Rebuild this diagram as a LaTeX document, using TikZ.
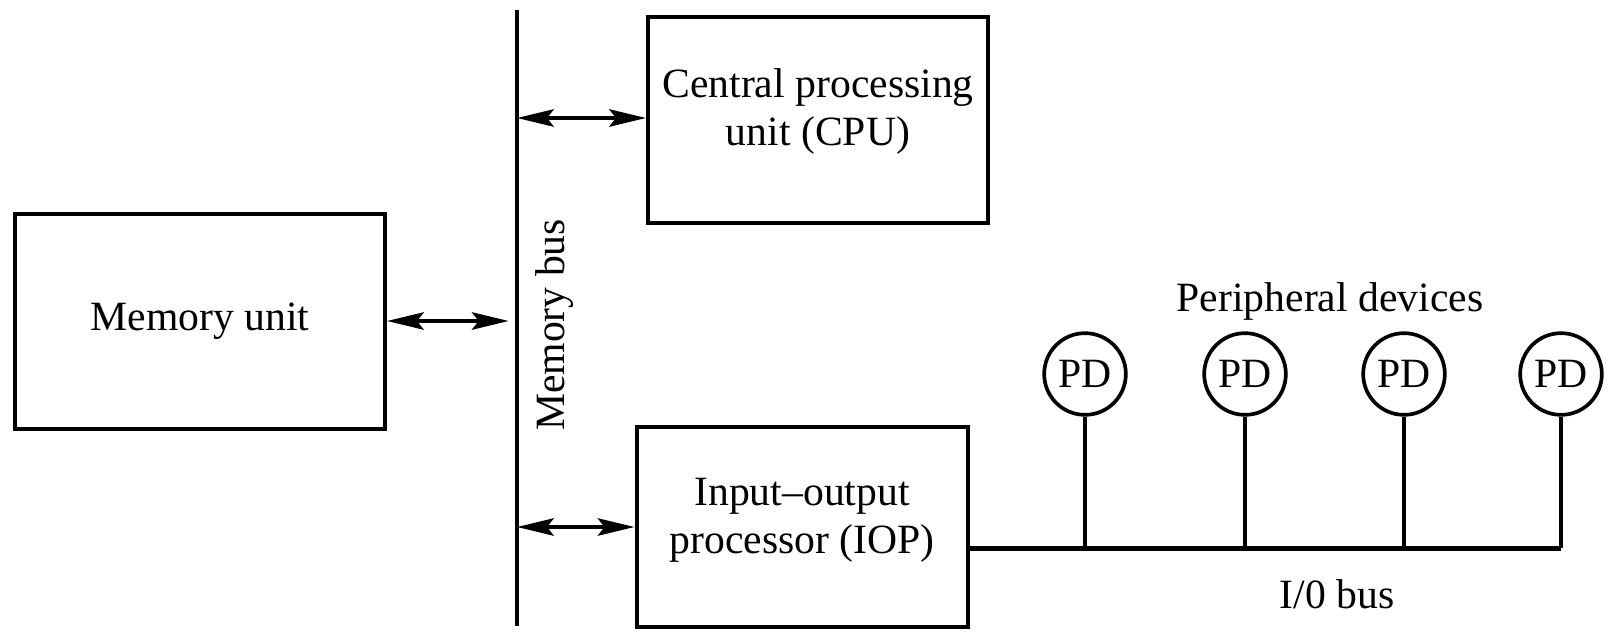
\documentclass[tikz,border=0pt]{standalone}
\usepackage{fontspec}
\setmainfont{Liberation Serif}
\usetikzlibrary{arrows.meta}

\tikzset{
  unitbox/.style={draw, line width=1.2pt, inner sep=0pt},
  unittext/.style={align=center, inner sep=0pt},
  pdnode/.style={draw, circle, line width=1.1pt, minimum size=24.5pt, inner sep=0pt},
  biarrow/.style={line width=1.2pt, {Stealth[length=11pt,width=5.2pt,inset=2pt]}-{Stealth[length=11pt,width=5.2pt,inset=2pt]}},
}

\begin{document}
\begin{tikzpicture}[x=0.3pt,y=0.3pt,yscale=-1,xscale=1, font=\fontsize{12.5}{14.5}\selectfont]
\useasboundingbox (0,0) rectangle (1610,636);

%Shape: Rectangle [memory]
\node[unitbox, minimum width=111pt, minimum height=64.5pt] (mem) at (200,321) {};
%Shape: Rectangle [cpu]
\node[unitbox, minimum width=102pt, minimum height=61.8pt] (cpu) at (818,120) {};
%Shape: Rectangle [iop]
\node[unitbox, minimum width=99.3pt, minimum height=60pt] (iop) at (802,527) {};

%Straight Lines [memory bus]
\coordinate (bustop) at (517,10);
\coordinate (busbot) at (517,626);
\draw[line width=1.2pt] (bustop) -- (busbot);

%Straight Lines [bus arrows]
\draw[biarrow, shorten >=2.5pt] (mem.east) -- (mem.east -| bustop);
\draw[biarrow] (bustop |- 0,118) -- (cpu.west |- 0,118);
\draw[biarrow] (bustop |- iop.west) -- (iop.west);

%Shape: Circle [peripheral devices]
\node[pdnode] (pd1) at (1085,374) {PD};
\node[pdnode] (pd2) at (1245,374) {PD};
\node[pdnode] (pd3) at (1404,374) {PD};
\node[pdnode] (pd4) at (1561,374) {PD};

%Straight Lines [I/O bus]
\coordinate (iobus) at (0,548);
\draw[line width=1.5pt] (iop.east |- iobus) -- (pd4.south |- iobus);
\draw[line width=1.1pt] (pd1.south) -- (pd1.south |- iobus);
\draw[line width=1.1pt] (pd2.south) -- (pd2.south |- iobus);
\draw[line width=1.1pt] (pd3.south) -- (pd3.south |- iobus);
\draw[line width=1.1pt] (pd4.south) -- (pd4.south |- iobus);

% Text Node
\node[unittext] (memtext) at (mem.center) {Memory unit};
% Text Node
\node[unittext] (cputext) at ([yshift=-2.5pt]cpu.center) {Central processing\\unit (CPU)};
% Text Node
\node[unittext] (ioptext) at ([yshift=-2pt]iop.center) {Input--output\\processor (IOP)};
% Text Node
\node[rotate=90] (membus) at (555,325) {Memory bus};
% Text Node
\node (pdlabel) at (1330,301) {Peripheral devices};
% Text Node
\node (iobuslabel) at (1337,594) {I/0 bus};
\end{tikzpicture}
\end{document}
